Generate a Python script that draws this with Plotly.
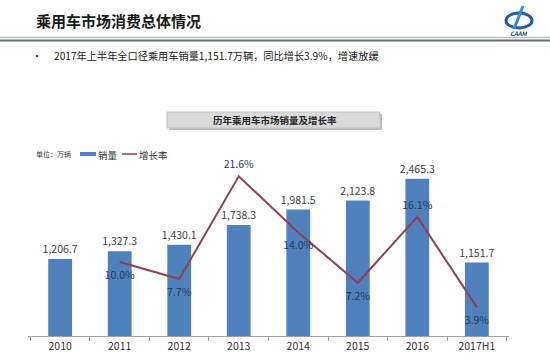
import plotly.graph_objects as go

categories = ["2010", "2011", "2012", "2013", "2014", "2015", "2016", "2017H1"]
sales = [1206.7, 1327.3, 1430.1, 1738.3, 1981.5, 2123.8, 2465.3, 1151.7]
growth = [None, 10.0, 7.7, 21.6, 14.0, 7.2, 16.1, 3.9]
growth_pos = ["bottom center", "bottom center", "bottom center", "top center", "bottom center",
              "bottom center", "top center", "bottom center"]

W, H = 550, 359
L, R, T, B = 28, 41, 140, 23
PW = W - L - R
PH = H - T - B

def px(x):
    return (x - L) / PW

def py(y):
    return (H - B - y) / PH

FONT = "Noto Sans CJK SC, Noto Sans, sans-serif"
BAR_C = "#4F81BD"
LINE_C = "#8E4350"

# invisible marker size controls label offset from the point
label_offsets = [13 if p.startswith("bottom") else 7 for p in growth_pos]

fig = go.Figure()
fig.add_trace(go.Bar(
    x=categories, y=sales, name="销量",
    marker=dict(color=BAR_C, line=dict(width=0)),
    text=[f"{v:,.1f}" for v in sales], textposition="outside",
    constraintext="none",
    textfont=dict(size=10.5, color="#404040", family=FONT),
    cliponaxis=False, showlegend=False,
))
fig.add_trace(go.Scatter(
    x=categories, y=growth, name="增长率", yaxis="y2",
    mode="lines+markers+text", line=dict(color=LINE_C, width=2),
    marker=dict(size=label_offsets, color="rgba(0,0,0,0)", line=dict(width=0)),
    text=["" if g is None else f"{g:.1f}%" for g in growth],
    textposition=growth_pos,
    textfont=dict(size=10.5, color="#1F3B5C", family=FONT),
    cliponaxis=False, showlegend=False,
))

shapes = [
    # top double rule
    dict(type="line", xref="paper", yref="paper", x0=px(0), x1=px(550), y0=py(37.5), y1=py(37.5),
         line=dict(color="#BCC2C2", width=1.5)),
    dict(type="line", xref="paper", yref="paper", x0=px(0), x1=px(550), y0=py(40.5), y1=py(40.5),
         line=dict(color="#6B7373", width=2)),
    # title box shadow and box
    dict(type="rect", xref="paper", yref="paper", x0=px(169), x1=px(382), y0=py(114), y1=py(130),
         fillcolor="#BDBDBD", line=dict(width=0)),
    dict(type="rect", xref="paper", yref="paper", x0=px(167), x1=px(380), y0=py(112), y1=py(128),
         fillcolor="#DADADA", line=dict(color="#C4C4C4", width=1)),
    # manual legend swatches
    dict(type="rect", xref="paper", yref="paper", x0=px(80), x1=px(96), y0=py(152), y1=py(156),
         fillcolor=BAR_C, line=dict(width=0)),
    dict(type="line", xref="paper", yref="paper", x0=px(122), x1=px(137), y0=py(154), y1=py(154),
         line=dict(color=LINE_C, width=1.5)),
    # logo approximation
    dict(type="circle", xref="paper", yref="paper", x0=px(506), x1=px(532), y0=py(13), y1=py(28),
         line=dict(color="#1E5FA8", width=3)),
    dict(type="line", xref="paper", yref="paper", x0=px(523), x1=px(514), y0=py(6), y1=py(29),
         line=dict(color="#3A8AD0", width=3)),
]

annotations = [
    dict(text="<b>乘用车市场消费总体情况</b>", xref="paper", yref="paper", x=px(34), y=py(21),
         xanchor="left", yanchor="middle", showarrow=False,
         font=dict(size=15, color="#1A1A1A", family=FONT)),
    dict(text="•", xref="paper", yref="paper", x=px(30), y=py(55),
         xanchor="left", yanchor="middle", showarrow=False,
         font=dict(size=10, color="#222222", family=FONT)),
    dict(text="2017年上半年全口径乘用车销量1,151.7万辆，同比增长3.9%，增速放缓",
         xref="paper", yref="paper", x=px(52), y=py(55),
         xanchor="left", yanchor="middle", showarrow=False,
         font=dict(size=10.2, color="#222222", family=FONT)),
    dict(text="<b>历年乘用车市场销量及增长率</b>", xref="paper", yref="paper", x=px(275), y=py(120),
         xanchor="center", yanchor="middle", showarrow=False,
         font=dict(size=9.5, color="#262626", family=FONT)),
    dict(text="单位：万辆", xref="paper", yref="paper", x=px(34), y=py(154),
         xanchor="left", yanchor="middle", showarrow=False,
         font=dict(size=7, color="#404040", family=FONT)),
    dict(text="销量", xref="paper", yref="paper", x=px(96), y=py(154.5),
         xanchor="left", yanchor="middle", showarrow=False,
         font=dict(size=9.5, color="#333333", family=FONT)),
    dict(text="增长率", xref="paper", yref="paper", x=px(137), y=py(154.5),
         xanchor="left", yanchor="middle", showarrow=False,
         font=dict(size=9.5, color="#333333", family=FONT)),
    dict(text="<i><b>CAAM</b></i>", xref="paper", yref="paper", x=px(519), y=py(33),
         xanchor="center", yanchor="middle", showarrow=False,
         font=dict(size=6, color="#1A4E8C", family=FONT)),
]

fig.update_layout(
    width=W, height=H,
    margin=dict(l=L, r=R, t=T, b=B, pad=0, autoexpand=False),
    paper_bgcolor="white", plot_bgcolor="white",
    font=dict(family=FONT, color="#333333"),
    bargap=0.6,
    showlegend=False,
    hovermode=False,
    xaxis=dict(type="category", showline=True, linecolor="#A0A0A0", linewidth=1,
               ticks="outside", tickson="boundaries", ticklen=4, tickcolor="#A0A0A0",
               tickfont=dict(size=10.5, color="#333333", family=FONT),
               showgrid=False, zeroline=False),
    yaxis=dict(range=[0, 3072], visible=False, showgrid=False),
    yaxis2=dict(range=[0, 26.5], overlaying="y", side="right", visible=False, showgrid=False),
    shapes=shapes, annotations=annotations,
)

fig.write_html("out.html", config={"displayModeBar": False},
               post_script="document.body.style.margin='0';document.body.style.overflow='hidden';")
